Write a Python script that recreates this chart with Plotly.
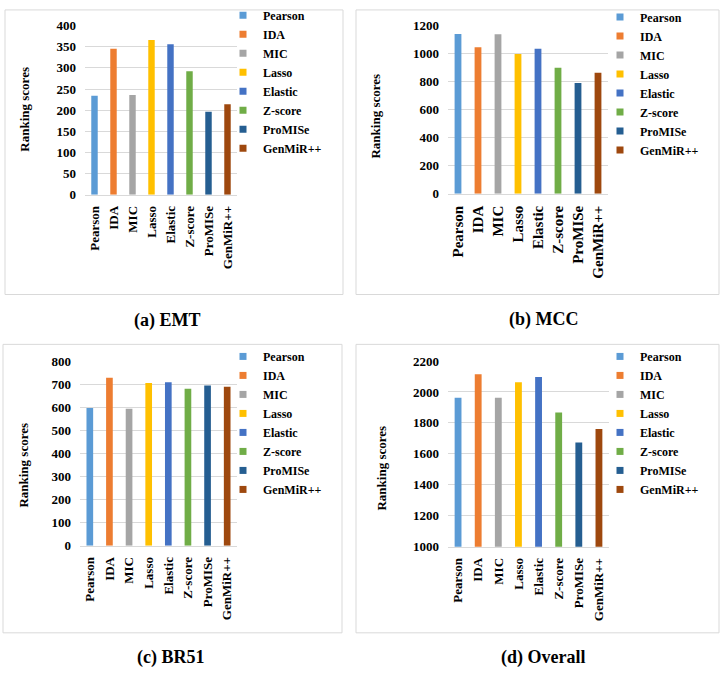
import plotly.graph_objects as go

W, H = 722, 678

methods = ["Pearson", "IDA", "MIC", "Lasso", "Elastic", "Z-score", "ProMISe", "GenMiR++"]
colors = ["#5B9BD5", "#ED7D31", "#A5A5A5", "#FFC000", "#4472C4", "#70AD47", "#255E91", "#9E480E"]

emt_scores = [234, 345, 236, 366, 356, 292, 196, 214]
mcc_scores = [1140, 1045, 1138, 997, 1035, 900, 790, 863]
br51_scores = [597, 727, 593, 705, 708, 680, 694, 689]
overall_scores = [1963, 2115, 1963, 2062, 2096, 1868, 1674, 1760]

captions = ["(a) EMT", "(b) MCC", "(c) BR51", "(d) Overall"]
y_title = "Ranking scores"

FONT = "Liberation Serif, Times New Roman, Times, serif"


def fx(px):
    return px / W


def fy(py):
    return 1 - py / H


panels = [
    dict(data=emt_scores, yr=[0, 400], dt=50, xd=(85, 237), yd=(19, 192), xts=13,
         leg=(261, 20), yt=(25, 105), cap=(167, 321), box=(5, 3, 343, 294)),
    dict(data=mcc_scores, yr=[0, 1200], dt=200, xd=(448, 608), yd=(19, 191), xts=15,
         leg=(638, 22), yt=(376, 112), cap=(544, 320), box=(356, 3, 719, 294)),
    dict(data=br51_scores, yr=[0, 800], dt=100, xd=(80, 237), yd=(362, 551), xts=13,
         leg=(261, 369), yt=(24, 469), cap=(170, 665), box=(3, 345, 342, 640)),
    dict(data=overall_scores, yr=[1000, 2200], dt=200, xd=(448, 609), yd=(362, 552), xts=13,
         leg=(638, 369), yt=(382, 472), cap=(543, 665), box=(356, 345, 719, 640)),
]

fig = go.Figure()
annotations = []
shapes = []
layout_extra = {}

for i, p in enumerate(panels):
    n = i + 1
    xa = "x" if n == 1 else f"x{n}"
    ya = "y" if n == 1 else f"y{n}"
    legname = "legend" if n == 1 else f"legend{n}"
    for m, c, v in zip(methods, colors, p["data"]):
        fig.add_trace(go.Bar(
            x=[m], y=[v], marker=dict(color=c, line=dict(width=0)), width=0.34,
            xaxis=xa, yaxis=ya, showlegend=False, name=m, hoverinfo="x+y",
        ))
    for m, c in zip(methods, colors):
        fig.add_trace(go.Scatter(
            x=[None], y=[None], mode="markers", name=m,
            marker=dict(symbol="square", size=7, color=c),
            xaxis=xa, yaxis=ya, legend=legname, showlegend=True,
        ))
    xkey = "xaxis" if n == 1 else f"xaxis{n}"
    ykey = "yaxis" if n == 1 else f"yaxis{n}"
    layout_extra[xkey] = dict(
        domain=[fx(p["xd"][0]), fx(p["xd"][1])], anchor=ya,
        categoryorder="array", categoryarray=methods,
        tickangle=-90, showgrid=False, showline=True, linecolor="#D9D9D9", linewidth=1,
        ticks="", ticklabelstandoff=5,
        tickfont=dict(family=FONT, size=p["xts"], color="#000000", weight="bold"),
        zeroline=False, fixedrange=True,
    )
    layout_extra[ykey] = dict(
        domain=[fy(p["yd"][1]), fy(p["yd"][0])], anchor=xa,
        range=p["yr"], dtick=p["dt"], showgrid=True, gridcolor="#D9D9D9", gridwidth=1,
        showline=False, zeroline=False, ticks="", ticklabelstandoff=8,
        tickfont=dict(family=FONT, size=13, color="#000000", weight="bold"),
        fixedrange=True,
    )
    layout_extra[legname] = dict(
        x=fx(p["leg"][0] - 38), y=fy(p["leg"][1] - 26.5), xanchor="left", yanchor="top",
        font=dict(family=FONT, size=12, color="#000000", weight="bold"),
        bgcolor="rgba(0,0,0,0)", borderwidth=0, tracegroupgap=0,
    )
    annotations.append(dict(
        text=y_title, x=fx(p["yt"][0]), y=fy(p["yt"][1]), xref="paper", yref="paper",
        textangle=-90, showarrow=False, xanchor="center", yanchor="middle",
        font=dict(family=FONT, size=13, color="#000000", weight="bold"),
    ))
    annotations.append(dict(
        text=captions[i], x=fx(p["cap"][0]), y=fy(p["cap"][1]), xref="paper", yref="paper",
        showarrow=False, xanchor="center", yanchor="middle",
        font=dict(family=FONT, size=18, color="#000000", weight="bold"),
    ))
    b = p["box"]
    shapes.append(dict(
        type="rect", xref="paper", yref="paper",
        x0=fx(b[0]), x1=fx(b[2]), y0=fy(b[3]), y1=fy(b[1]),
        line=dict(color="#D9D9D9", width=1), fillcolor="rgba(0,0,0,0)", layer="below",
    ))

fig.update_layout(
    width=W, height=H, margin=dict(l=0, r=0, t=0, b=0),
    paper_bgcolor="#FFFFFF", plot_bgcolor="#FFFFFF",
    barmode="overlay",
    font=dict(family=FONT),
    annotations=annotations, shapes=shapes,
    **layout_extra,
)

fig.write_html(
    "out.html",
    config={"displayModeBar": False},
    post_script="document.body.style.margin='0';document.body.style.overflow='hidden';",
)
